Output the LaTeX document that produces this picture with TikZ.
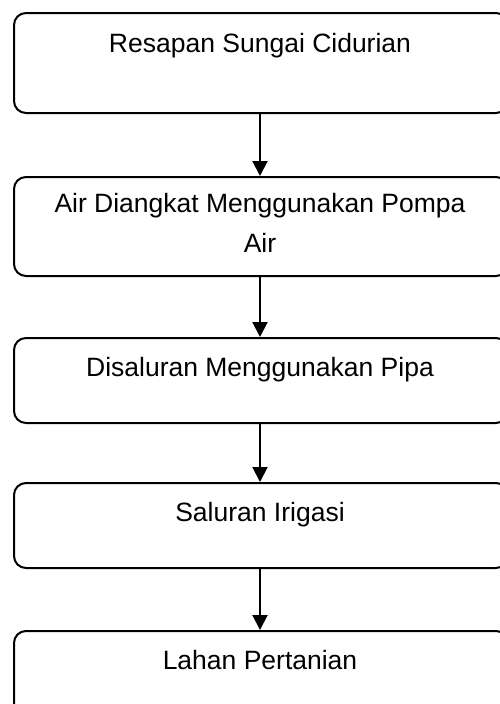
\documentclass[tikz,border=0pt]{standalone}
\usepackage{fontspec}
\setmainfont{Liberation Sans}
\usetikzlibrary{arrows.meta}
\begin{document}
\begin{tikzpicture}[x=1pt,y=-1pt,
  box/.style={draw,line width=2pt,rounded corners=12pt,minimum width=494pt,inner sep=0pt,anchor=north west},
  lbl/.style={anchor=base,font=\fontsize{26.5}{40}\selectfont,align=center,inner sep=0pt},
  arr/.style={line width=2pt,-{Triangle[width=15pt,length=15pt]}}]
\useasboundingbox (0,0) rectangle (499,704);
\node[box,minimum height=100pt] (b1) at (13,12) {};
\node[box,minimum height=99pt] (b2) at (13,176) {};
\node[box,minimum height=85pt] (b3) at (13,337) {};
\node[box,minimum height=85pt] (b4) at (13,482) {};
\node[box,minimum height=95pt] (b5) at (13,630) {};
\node[lbl] (t1) at (260,52) {Resapan Sungai Cidurian};
\node[lbl] (t2) at (260,252) {Air Diangkat Menggunakan Pompa\\Air};
\node[lbl] (t3) at (260,376) {Disaluran Menggunakan Pipa};
\node[lbl] (t4) at (260,521) {Saluran Irigasi};
\node[lbl] (t5) at (260,669) {Lahan Pertanian};
\draw[arr] (b1.south -| t1.base) -- (b2.north -| t1.base);
\draw[arr] (b2.south -| t1.base) -- (b3.north -| t1.base);
\draw[arr] (b3.south -| t1.base) -- (b4.north -| t1.base);
\draw[arr] (b4.south -| t1.base) -- (b5.north -| t1.base);
\end{tikzpicture}
\end{document}
